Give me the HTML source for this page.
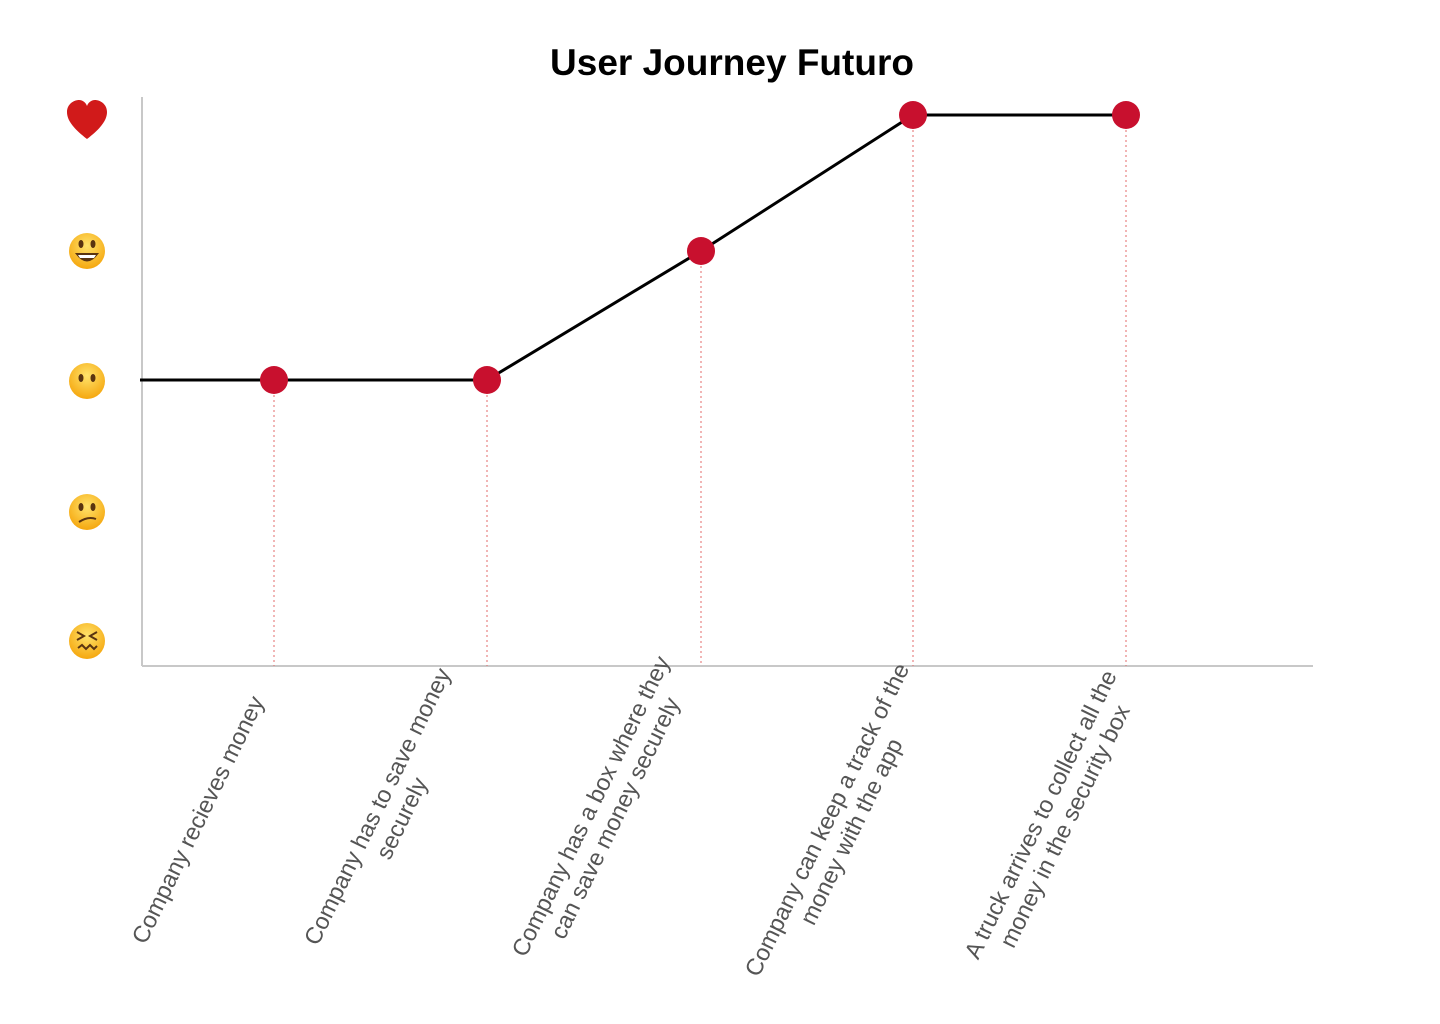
<!DOCTYPE html>
<html><head><meta charset="utf-8"><style>
body{margin:0;width:1440px;height:1024px;background:#fff;position:relative;overflow:hidden;font-family:"Liberation Sans",sans-serif}
.t{position:absolute;left:0;width:1464px;top:42px;text-align:center;font-weight:bold;font-size:37px;color:#000}
.a{position:absolute;width:0;height:0}
.a div{position:absolute;right:0;top:0;transform-origin:right top;transform:rotate(-64deg);white-space:nowrap;text-align:center;font-size:23.5px;line-height:27px;color:#555}
</style></head><body>
<div class="t">User Journey Futuro</div>
<svg width="1440" height="1024" style="position:absolute;left:0;top:0">
<defs><radialGradient id="g" cx="50%" cy="35%" r="65%"><stop offset="0" stop-color="#ffe36b"/><stop offset="1" stop-color="#f5a70f"/></radialGradient></defs>
<line x1="142" y1="97" x2="142" y2="666" stroke="#c8c8c8" stroke-width="2"/>
<line x1="142" y1="666" x2="1313" y2="666" stroke="#c8c8c8" stroke-width="2"/>
<g stroke="#e36b6b" stroke-width="1" stroke-dasharray="2,3">
<line x1="274" y1="380" x2="274" y2="666"/><line x1="487" y1="380" x2="487" y2="666"/>
<line x1="701" y1="251" x2="701" y2="666"/><line x1="913" y1="115" x2="913" y2="666"/>
<line x1="1126" y1="115" x2="1126" y2="666"/></g>
<polyline points="140,380 274,380 487,380 701,251 913,115 1126,115" fill="none" stroke="#000" stroke-width="3"/>
<g fill="#c8102e"><circle cx="274" cy="380" r="14"/><circle cx="487" cy="380" r="14"/><circle cx="701" cy="251" r="14"/><circle cx="913" cy="115" r="14"/><circle cx="1126" cy="115" r="14"/></g>
<path d="M87 139 C70 126 67 118 67 112 C67 104 74 100 79 100 C83 100 86 103 87 106 C88 103 91 100 95 100 C100 100 107 104 107 112 C107 118 104 126 87 139Z" fill="#d11a1a"/>
<g><circle cx="87" cy="251" r="18" fill="url(#g)"/><ellipse cx="81" cy="244" rx="2.5" ry="4" fill="#5a3410"/><ellipse cx="93" cy="244" rx="2.5" ry="4" fill="#5a3410"/><path d="M75 253 Q87 270 99 253Z" fill="#5a3410"/><path d="M78 255 L96 255 L94 258 L80 258Z" fill="#fff"/></g>
<g><circle cx="87" cy="381" r="18" fill="url(#g)"/><ellipse cx="81" cy="378" rx="2.5" ry="4" fill="#5a3410"/><ellipse cx="93" cy="378" rx="2.5" ry="4" fill="#5a3410"/></g>
<g><circle cx="87" cy="512" r="18" fill="url(#g)"/><ellipse cx="81" cy="507" rx="2.5" ry="4" fill="#5a3410"/><ellipse cx="93" cy="507" rx="2.5" ry="4" fill="#5a3410"/><path d="M79 522 Q88 516 96 519" stroke="#5a3410" stroke-width="2" fill="none"/></g>
<g><circle cx="87" cy="641" r="18" fill="url(#g)"/><path d="M77 632 L84 636 L77 640 M97 632 L90 636 L97 640" stroke="#5a3410" stroke-width="2" fill="none"/><path d="M78 648 L82 645 L86 649 L90 645 L94 649 L97 646" stroke="#5a3410" stroke-width="2" fill="none"/></g>
</svg>
<div class="a" style="left:246px;top:692px"><div>Company recieves money</div></div>
<div class="a" style="left:432px;top:664px"><div>Company has to save money<br>securely</div></div>
<div class="a" style="left:651px;top:652px"><div>Company has a box where they<br>can save money securely</div></div>
<div class="a" style="left:891px;top:659px"><div>Company can keep a track of the<br>money with the app</div></div>
<div class="a" style="left:1098px;top:666px"><div>A truck arrives to collect all the<br>money in the security box</div></div>
</body></html>
